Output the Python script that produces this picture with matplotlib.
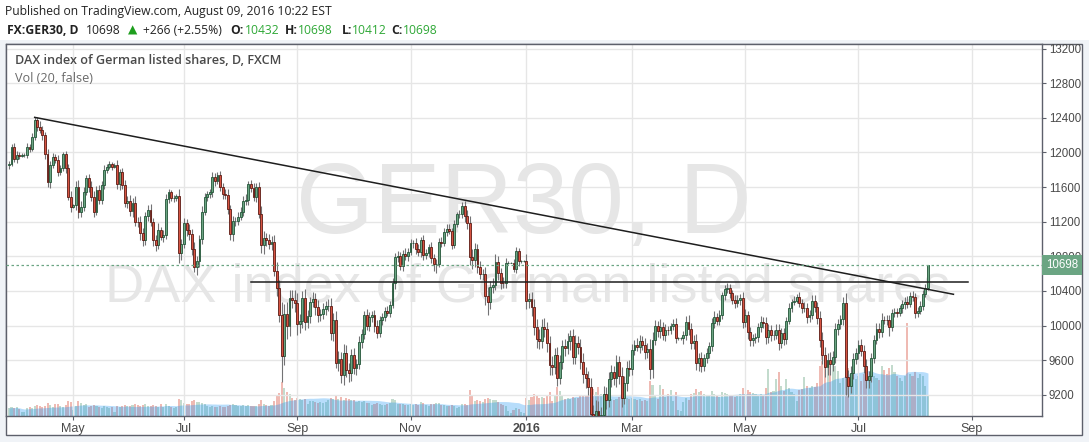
import numpy as np
import pandas as pd
import matplotlib
matplotlib.use("Agg")
import matplotlib.pyplot as plt
from matplotlib.patches import Rectangle

# ---- data: FXCM GER30 daily, 2015-03-27 .. 2016-08-09 (weekdays) ----
dates = pd.bdate_range("2015-03-27", "2016-08-09")
first_open = 11850

close = [
    11870,                                                               # Mar 27
    12060, 11930, 11975, 11965, 11970, 11970, 12067, 12045, 12180, 12375,
    12300, 12260, 12200, 11980, 11655, 11855, 11950, 11913, 11780, 11817,
    11980, 11817, 11490, 11375,                                          # Apr
    11390, 11605, 11316, 11375, 11547, 11700, 11605, 11490, 11316, 11566,
    11450, 11625, 11800, 11835, 11863, 11836, 11855, 11632, 11771, 11624,
    11413,                                                               # May
    11436, 11328, 11419, 11198, 11197, 11064, 10985, 11265, 11332, 11197,
    10984, 10930, 11100, 11027, 11050, 11460, 11542, 11471, 11472, 11492,
    10833, 10945,                                                        # Jun
    11180, 11100, 11058, 10890, 10676, 10747, 10997, 11316, 11485, 11516,
    11540, 11717, 11673, 11735, 11604, 11520, 11512, 11347, 11056, 11211,
    11212, 11257, 11308,                                                 # Jul
    11443, 11456, 11636, 11585, 11490, 11604, 11293, 10925, 11015, 10985,
    10940, 10970, 10630, 10432, 10124, 9648, 10128, 9998, 10315, 10298,
    10259,                                                               # Aug
    10016, 10048, 10318, 10038, 10108, 10271, 10303, 10210, 10123, 10131,
    10188, 10227, 10229, 9916, 10066, 9570, 9612, 9428, 9688, 9483,
    9450, 9660,                                                          # Sep
    9509, 9553, 9814, 9902, 10118, 9993, 10096, 10117, 9995, 9915,
    10064, 10104, 10164, 10147, 10238, 10491, 10795, 10801, 10692, 10831,
    10800, 10850,                                                        # Oct
    10950, 10951, 10887, 10845, 10988, 10815, 10833, 10907, 10782, 10708,
    10713, 10971, 10959, 11085, 11119, 11092, 10934, 11170, 11285, 11293,
    11382,                                                               # Nov
    11261, 11190, 10789, 10752, 10886, 10673, 10592, 10598, 10340, 10270,
    10450, 10470, 10738, 10608, 10497, 10488, 10727, 10727, 10727, 10653,
    10860, 10743, 10743,                                                 # Dec
    10743, 10283, 10310, 10214, 9979, 9849, 9825, 9985, 9960, 9794,
    9545, 9521, 9664, 9392, 9574, 9764, 9736, 9822, 9880, 9640,
    9798,                                                                # Jan 2016
    9757, 9581, 9434, 9393, 9286, 8979, 8879, 9017, 8752, 8967,
    9206, 9135, 9377, 9463, 9388, 9573, 9416, 9167, 9331, 9513,
    9495,                                                                # Feb
    9717, 9776, 9751, 9824, 9778, 9692, 9723, 9498, 9831, 9990,
    9933, 9984, 9892, 9950, 9948, 9990, 10022, 9851, 9851, 9851,
    9887, 10046, 9965,                                                   # Mar
    9794, 9822, 9563, 9624, 9530, 9622, 9683, 9761, 10026, 10094,
    10051, 10120, 10350, 10422, 10435, 10373, 10294, 10260, 10300, 10322,
    10039,                                                               # Apr
    10123, 9926, 9828, 9852, 9870, 9980, 10045, 10034, 9862, 9952,
    9890, 9891, 9943, 9795, 9916, 9842, 10057, 10205, 10272, 10286,
    10333, 10262,                                                        # May
    10204, 10208, 10103, 10121, 10287, 10217, 10088, 9834, 9657, 9519,
    9606, 9550, 9631, 9962, 10015, 10071, 10257, 9400, 9300, 9448,
    9612, 9680,                                                          # Jun
    9776, 9709, 9532, 9373, 9418, 9629, 9833, 9964, 9930, 10068,
    10066, 10064, 9981, 10142, 10157, 10147, 10198, 10247, 10275, 10249,
    10337,                                                               # Jul
    10330, 10144, 10170, 10228, 10367, 10432, 10698,                     # Aug
]

# wick length above / below the body, in index points
wick_up = [
    30,
    40, 50, 40, 30, 20, 20, 40, 30, 40, 30, 40, 60, 50, 40, 60, 50, 40, 30, 60, 40, 30, 40, 50, 60,
    20, 60, 80, 60, 50, 40, 50, 60, 70, 50, 60, 40, 50, 30, 40, 30, 20, 60, 40, 50, 60,
    60, 70, 50, 80, 60, 70, 60, 50, 60, 70, 50, 60, 80, 40, 50, 60, 40, 30, 40, 30, 90, 60,
    60, 50, 70, 60, 80, 60, 50, 60, 50, 40, 40, 60, 50, 40, 50, 40, 60, 70, 50, 60, 40, 50, 60,
    50, 60, 40, 50, 60, 40, 60, 90, 80, 60, 70, 60, 80, 100, 90, 150, 120, 140, 100, 90, 110,
    120, 90, 80, 100, 70, 60, 90, 70, 80, 60, 70, 60, 80, 90, 80, 100, 90, 80, 100, 90, 80, 70,
    80, 60, 70, 60, 50, 70, 60, 50, 60, 70, 50, 40, 50, 60, 50, 60, 40, 60, 50, 40, 60, 50,
    50, 40, 60, 50, 40, 60, 50, 40, 60, 50, 60, 40, 50, 40, 50, 60, 40, 50, 30, 40, 50,
    60, 70, 80, 90, 70, 60, 70, 60, 80, 100, 70, 80, 90, 70, 60, 60, 50, 20, 10, 40, 50, 40, 20,
    10, 80, 70, 80, 90, 100, 110, 90, 100, 80, 90, 100, 80, 90, 80, 70, 80, 90, 70, 80, 90,
    80, 90, 100, 90, 80, 110, 100, 120, 110, 90, 100, 80, 90, 80, 70, 90, 80, 100, 90, 80, 90,
    70, 60, 80, 70, 60, 80, 70, 120, 90, 70, 60, 90, 60, 70, 50, 40, 50, 60, 20, 20, 50, 60, 70,
    60, 70, 80, 60, 70, 50, 60, 50, 60, 70, 50, 60, 40, 50, 60, 50, 40, 60, 50, 40, 60,
    70, 50, 60, 50, 40, 50, 60, 50, 60, 70, 50, 60, 70, 80, 60, 50, 40, 50, 40, 50, 30, 60,
    50, 60, 50, 60, 70, 60, 50, 80, 90, 100, 80, 90, 80, 70, 60, 50, 70, 120, 90, 80, 70, 60,
    60, 70, 60, 80, 60, 50, 60, 70, 60, 80, 40, 50, 60, 50, 40, 50, 40, 50, 60, 70, 50,
    60, 50, 40, 50, 40, 50, 0,
]
wick_dn = [
    40,
    30, 40, 50, 40, 20, 20, 30, 40, 30, 40, 50, 40, 50, 60, 50, 60, 40, 30, 50, 40, 30, 50, 40, 60,
    20, 50, 70, 60, 50, 40, 60, 50, 60, 40, 50, 40, 50, 40, 30, 40, 20, 50, 60, 50, 40,
    50, 60, 70, 50, 60, 80, 70, 50, 60, 50, 60, 70, 50, 40, 60, 50, 40, 30, 40, 30, 110, 80,
    50, 60, 70, 80, 60, 90, 70, 50, 40, 50, 40, 50, 60, 40, 50, 60, 50, 60, 70, 80, 60, 50, 40,
    40, 50, 60, 40, 50, 60, 50, 90, 100, 70, 60, 70, 60, 90, 80, 300, 100, 150, 120, 90, 100,
    130, 100, 80, 90, 70, 80, 60, 90, 80, 70, 60, 70, 60, 80, 90, 60, 100, 90, 110, 80, 100, 90,
    70, 80, 60, 70, 60, 50, 60, 60, 70, 60, 50, 60, 50, 40, 50, 40, 70, 60, 50, 60, 40, 50,
    40, 50, 60, 40, 50, 60, 50, 40, 60, 80, 100, 40, 50, 40, 50, 40, 50, 40, 30, 40, 50,
    60, 70, 90, 100, 80, 70, 60, 70, 100, 150, 80, 70, 60, 80, 70, 60, 50, 20, 10, 40, 50, 60, 20,
    10, 90, 80, 100, 90, 110, 100, 80, 90, 100, 120, 90, 80, 90, 70, 80, 90, 70, 100, 80, 90,
    90, 80, 100, 120, 90, 110, 130, 120, 150, 110, 90, 100, 80, 90, 80, 100, 90, 110, 80, 90, 80,
    70, 60, 50, 70, 60, 80, 70, 120, 100, 60, 70, 80, 60, 70, 60, 50, 40, 50, 20, 20, 60, 50, 70,
    60, 70, 80, 90, 70, 60, 50, 60, 50, 60, 50, 40, 50, 60, 50, 60, 40, 60, 50, 60, 70,
    60, 80, 70, 60, 50, 60, 50, 60, 70, 60, 70, 60, 50, 80, 60, 70, 50, 40, 50, 40, 30, 50,
    60, 50, 70, 60, 50, 60, 70, 80, 100, 110, 90, 120, 80, 60, 70, 50, 60, 200, 130, 80, 70, 60,
    70, 60, 80, 90, 100, 70, 60, 50, 70, 60, 50, 60, 100, 50, 40, 50, 40, 50, 60, 50, 40,
    50, 60, 50, 40, 50, 40, 20,
]

# tick volume (arbitrary units)
volume = [
    8,
    9, 8, 9, 7, 4, 4, 8, 9, 8, 10, 11, 10, 9, 10, 13, 11, 9, 12, 12, 10, 9, 11, 15, 14,
    6, 10, 15, 13, 11, 12, 9, 10, 11, 10, 9, 8, 10, 9, 8, 9, 4, 10, 9, 10, 11,
    10, 10, 11, 12, 11, 10, 11, 12, 10, 10, 11, 10, 9, 12, 9, 12, 10, 9, 8, 9, 17, 16,
    13, 12, 12, 15, 16, 14, 14, 13, 12, 10, 9, 10, 9, 9, 10, 9, 9, 10, 11, 12, 11, 10, 10,
    11, 10, 11, 10, 10, 10, 12, 16, 12, 11, 10, 11, 15, 20, 23, 34, 28, 24, 22, 18, 16,
    18, 17, 16, 17, 12, 15, 15, 14, 13, 14, 13, 14, 16, 18, 17, 20, 17, 19, 16, 18, 17, 16,
    16, 14, 15, 14, 15, 13, 13, 11, 12, 13, 12, 11, 11, 12, 13, 17, 16, 12, 12, 12, 11, 11,
    12, 11, 12, 11, 14, 13, 11, 10, 12, 12, 13, 13, 11, 11, 10, 10, 11, 10, 8, 9, 12,
    12, 11, 26, 20, 15, 16, 15, 14, 17, 18, 17, 16, 16, 14, 12, 11, 10, 5, 3, 6, 8, 7, 4,
    3, 18, 16, 19, 22, 20, 18, 19, 18, 20, 24, 15, 20, 29, 25, 20, 17, 18, 17, 19, 18,
    18, 20, 21, 20, 21, 24, 27, 24, 29, 22, 16, 18, 19, 17, 16, 17, 19, 22, 19, 18, 17,
    18, 17, 16, 17, 15, 16, 15, 35, 31, 20, 17, 31, 27, 19, 22, 26, 15, 24, 6, 5, 14, 18, 16,
    22, 23, 27, 24, 25, 22, 20, 21, 25, 22, 21, 19, 24, 23, 22, 21, 20, 19, 21, 22, 28,
    22, 26, 24, 23, 22, 20, 22, 21, 28, 47, 24, 25, 37, 44, 30, 25, 37, 28, 24, 22, 15, 26,
    27, 39, 30, 28, 30, 29, 33, 50, 66, 56, 48, 52, 58, 50, 45, 33, 38, 51, 48, 40, 38, 37,
    40, 35, 42, 44, 40, 42, 40, 38, 36, 50, 46, 42, 48, 51, 44, 40, 38, 35, 40, 93, 42,
    40, 44, 38, 42, 40, 30, 20,
]

# drawn lines: falling trend line and horizontal level
trend_x = [10, 366.9]
trend_y = [12406, 10361]
level_x = [93.9, 372.7]
level_y = 10500
last_price = 10698

tick_dates = ["2015-05-01", "2015-07-01", "2015-09-01", "2015-11-02", "2016-01-04",
              "2016-03-01", "2016-05-02", "2016-07-01", "2016-09-01"]
tick_labels = ["May", "Jul", "Sep", "Nov", "2016", "Mar", "May", "Jul", "Sep"]
price_ticks = list(range(9200, 13201, 400))

assert len(close) == len(dates) == len(wick_up) == len(wick_dn) == len(volume)

# ---- build OHLC ----
c = np.array(close, dtype=float)
o = np.array([first_open] + close[:-1], dtype=float)
hi = np.maximum(o, c) + np.array(wick_up)
lo = np.minimum(o, c) - np.array(wick_dn)
x = np.arange(len(c))
up = c >= o
vol = np.array(volume, dtype=float)
vol_ma = pd.Series(vol).rolling(20, min_periods=1).mean().values

all_days = pd.bdate_range("2015-03-27", "2016-09-30")
tick_pos = all_days.get_indexer(pd.to_datetime(tick_dates))

UP, DN = "#6ba583", "#d75442"
UP_EDGE, DN_EDGE = "#225437", "#5b1a13"
FRAME = "#5d606b"
SANS = ["Liberation Sans", "DejaVu Sans"]
UI = ["Open Sans", "DejaVu Sans"]

W, H = 1089, 442
fig = plt.figure(figsize=(W / 100, H / 100), dpi=100)
fig.patch.set_facecolor("#f0f3f7")
# white header and chart box
fig.add_artist(Rectangle((0, (H - 40) / H), 1, 40 / H, transform=fig.transFigure,
                         fc="white", ec="none", zorder=-5))
fig.add_artist(Rectangle((6 / W, (H - 435) / H), (1082 - 6) / W, (435 - 44) / H,
                         transform=fig.transFigure, fc="white", ec=FRAME, lw=1, zorder=-4))

pos = [6 / W, (H - 416) / H, (1042 - 6) / W, (416 - 44) / H]
vax = fig.add_axes(pos)
ax = fig.add_axes(pos, sharex=vax)
ax.set_zorder(vax.get_zorder() + 1)
ax.patch.set_visible(False)

# ---- volume ----
vax.set_facecolor("white")
vax.bar(x[up], vol[up], width=0.8, color=UP, alpha=0.4, lw=0)
vax.bar(x[~up], vol[~up], width=0.8, color=DN, alpha=0.4, lw=0)
vax.fill_between(x, 0, vol_ma, color="#2196f3", alpha=0.32, lw=0)
vax.set_ylim(0, 372)
vax.set_yticks([])
for s in vax.spines.values():
    s.set_visible(False)
vax.tick_params(axis="x", labelbottom=False, length=0)

# ---- candles ----
ax.vlines(x, lo, hi, color="#737375", lw=0.8, zorder=2)
ax.bar(x[up], (c - o)[up], bottom=o[up], width=0.72, color=UP, edgecolor=UP_EDGE,
       lw=0.6, zorder=3)
ax.bar(x[~up], (o - c)[~up], bottom=c[~up], width=0.72, color=DN, edgecolor=DN_EDGE,
       lw=0.6, zorder=3)

ax.plot(trend_x, trend_y, color="#1e1e1e", lw=1.1, zorder=4)
ax.plot(level_x, [level_y, level_y], color="#1e1e1e", lw=1.1, zorder=4)
ax.axhline(last_price, color=UP, lw=0.9, ls=(0, (2, 2)), zorder=4)

ax.set_xlim(-1.146, 401.3)
ax.set_ylim(8954, 13254)

# ---- axes styling ----
ax.yaxis.tick_right()
ax.set_yticks(price_ticks)
ax.set_yticklabels([str(p) for p in price_ticks], family=SANS, fontsize=8.3, color="#4a4a4a")
ax.set_xticks(tick_pos)
ax.set_xticklabels(tick_labels, family=["Liberation Sans Narrow", "Liberation Sans"],
                   fontsize=9, color="#4a4a4a")
for lab in ax.get_xticklabels():
    if lab.get_text() == "2016":
        lab.set_fontweight("bold")
ax.tick_params(axis="both", direction="out", length=3, width=0.8, color=FRAME, pad=2)
ax.grid(True, color="#e6e6e6", lw=1)
ax.set_axisbelow(True)
for s in ax.spines.values():
    s.set_color(FRAME)
    s.set_linewidth(1)

# price label on axis (covers the lower half of the 10800 tick label, as in the original)
ax.text(1 + 4 / 1036, last_price, "10698", transform=ax.get_yaxis_transform(),
        ha="left", va="center", fontsize=8.3, family=SANS, color="white", zorder=10,
        clip_on=False, bbox=dict(boxstyle="square,pad=0.35", fc=UP, ec="none"))

# watermarks
ax.text(524 / W, 1 - 233 / H, "GER30, D", transform=fig.transFigure, ha="center",
        va="baseline", fontsize=72, family=SANS, color="#e6e6e6", zorder=0)
ax.text(528 / W, 1 - 302 / H, "DAX index of German listed shares", transform=fig.transFigure,
        ha="center", va="baseline", fontsize=39, family=SANS, color="#e6e6e6", zorder=0)

# legend texts
fig.text(15 / W, 1 - 61 / H, "DAX index of German listed shares, D, FXCM", fontsize=9.1,
         family=UI, fontweight="semibold", color="#4a4a4a", va="center")
fig.text(15 / W, 1 - 78 / H, "Vol (20, false)", fontsize=9.1, family=UI, color="#6a6a6a",
         va="center")

# header
fig.text(5 / W, 1 - 11.5 / H, "Published on TradingView.com, August 09, 2016 10:22 EST",
         fontsize=8.7, family=UI, color="#222222", va="center")
G = "#2ea836"
hdr = [
    (7, "FX:GER30, D", "bold", "#222222"),
    (86, "10698", "normal", "#222222"),
    (128, "\u25b2", "normal", "#1e9e1e"),
    (143, "+266 (+2.55%)", "normal", "#222222"),
    (230, "O:", "bold", "#222222"), (245, "10432", "normal", G),
    (285, "H:", "bold", "#222222"), (298, "10698", "normal", G),
    (342, "L:", "bold", "#222222"), (352, "10412", "normal", G),
    (391, "C:", "bold", "#222222"), (403, "10698", "normal", G),
]
for px, txt, wt, col in hdr:
    fig.text(px / W, 1 - 30.5 / H, txt, fontsize=8.7, family=UI, fontweight=wt,
             color=col, va="center")

fig.savefig("out.png", dpi=100, facecolor=fig.get_facecolor())
